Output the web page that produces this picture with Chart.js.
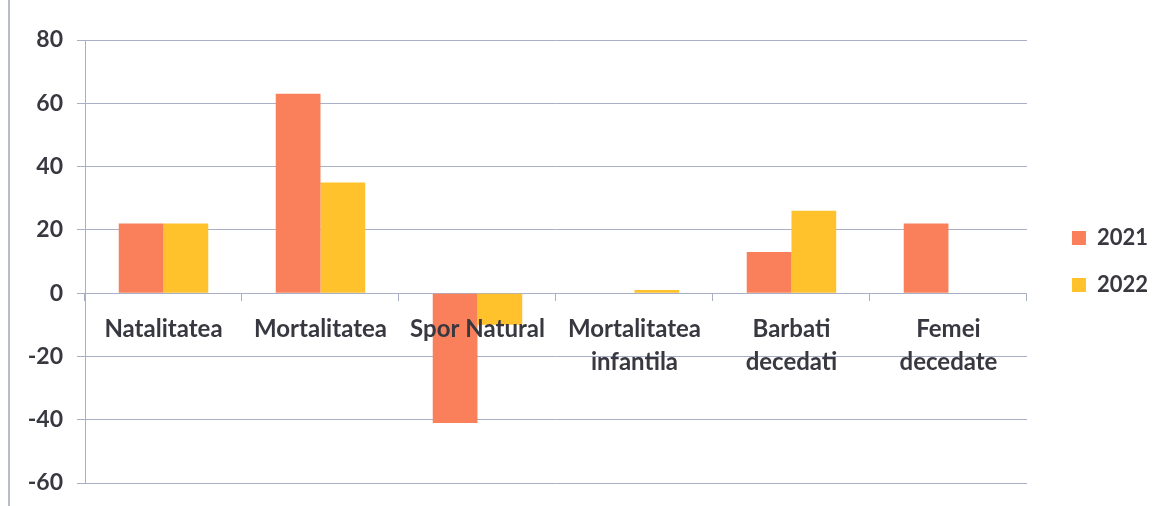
<!DOCTYPE html>
<html>
<head>
<meta charset="utf-8">
<script src="https://cdn.jsdelivr.net/npm/chart.js@4.4.1/dist/chart.umd.min.js"></script>
<style>
  html, body { margin: 0; padding: 0; background: #fff; }
  #wrap { position: relative; width: 1159px; height: 506px; }
  #edge { position: absolute; left: 8px; top: 0; width: 0; height: 506px; border-left: 2px solid #b8bcc8; }
</style>
</head>
<body>
<div id="wrap">
  <div id="edge"></div>
  <canvas id="chart" width="1159" height="506"></canvas>
</div>
<script>
const categories = [
  'Natalitatea',
  'Mortalitatea',
  'Spor Natural',
  ['Mortalitatea', 'infantila'],
  ['Barbati', 'decedati'],
  ['Femei', 'decedate']
];
const values2021 = [22, 63, -41, 0, 13, 22];
const values2022 = [22, 35, -10, 1, 26, 0];
const seriesNames = ['2021', '2022'];

const gridColor = '#a9b0c6';
const textColor = '#383840';
const font = { family: 'Lato', size: 24, weight: 'bold' };

const ctx = document.getElementById('chart').getContext('2d');

new Chart(ctx, {
  type: 'bar',
  data: {
    labels: categories,
    datasets: [
      {
        label: seriesNames[0],
        data: values2021,
        backgroundColor: '#f9805a',
        categoryPercentage: 0.57,
        barPercentage: 1
      },
      {
        label: seriesNames[1],
        data: values2022,
        backgroundColor: '#ffc12c',
        categoryPercentage: 0.57,
        barPercentage: 1
      }
    ]
  },
  options: {
    responsive: false,
    animation: false,
    layout: {
      padding: { top: 40, bottom: 23, left: 10, right: 1 }
    },
    plugins: {
      legend: {
        position: 'right',
        labels: {
          font: Object.assign({}, font, { size: 22 }),
          color: textColor,
          boxWidth: 14,
          boxHeight: 14,
          padding: 25
        }
      },
      tooltip: { enabled: false }
    },
    scales: {
      x: {
        position: { y: 0 },
        grid: {
          drawOnChartArea: false,
          drawTicks: true,
          tickLength: 7,
          color: gridColor,
          offset: true
        },
        border: { display: true, color: gridColor },
        ticks: {
          z: 1, // labels over the bars
          font: Object.assign({}, font, { lineHeight: 1.4 }),
          color: textColor,
          padding: 12,
          maxRotation: 0,
          autoSkip: false
        }
      },
      y: {
        min: -60,
        max: 80,
        afterFit: scale => {
          scale.width = 75;
          scale.paddingBottom = 5;
        },
        ticks: {
          stepSize: 20,
          font: Object.assign({}, font, { size: 23 }),
          color: textColor,
          padding: 14
        },
        grid: {
          color: gridColor,
          tickLength: 8
        },
        border: { display: true, color: gridColor }
      },
      // empty spacer between plot and legend
      gap: {
        type: 'linear',
        position: 'right',
        display: true,
        afterFit: scale => { scale.width = 20; },
        grid: { display: false },
        border: { display: false },
        ticks: { display: false }
      }
    }
  }
});
</script>
</body>
</html>
